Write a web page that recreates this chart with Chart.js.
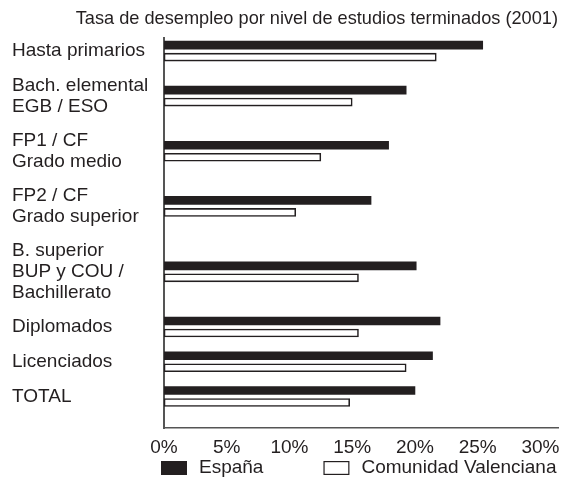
<!DOCTYPE html>
<html lang="es">
<head>
  <meta charset="UTF-8" />
  <title>Tasa de desempleo por nivel de estudios terminados (2001)</title>
  <script src="https://cdn.jsdelivr.net/npm/chart.js"></script>
  <style>
    html, body { margin: 0; padding: 0; background: #fff; }
    .wrap { width: 561px; height: 489px; position: relative; }
  </style>
</head>
<body>
  <div class="wrap"><canvas id="chart"></canvas></div>

  <script>
    // datos (%)
    const niveles = [
      "Hasta primarios",
      ["Bach. elemental", "EGB / ESO"],
      ["FP1 / CF", "Grado medio"],
      ["FP2 / CF", "Grado superior"],
      ["B. superior", "BUP y COU /", "Bachillerato"],
      "Diplomados",
      "Licenciados",
      "TOTAL"
    ];
    const espana = [25.4, 19.3, 17.9, 16.5, 20.1, 22.0, 21.4, 20.0];
    const comunidadValenciana = [21.7, 15.0, 12.5, 10.5, 15.5, 15.5, 19.3, 14.8];
    const ticksPct = [0, 5, 10, 15, 20, 25, 30];

    const TINTA = "#231f20";
    const FUENTE = '"Liberation Sans", Arial, Helvetica, sans-serif';

    // categorías con más líneas de texto ocupan más alto
    const HUECO = 0.7, MARGEN_SUP = -0.2, MARGEN_INF = 0.7;
    class EscalaPonderada extends Chart.CategoryScale {
      getPixelForValue(value) {
        if (typeof value !== "number") value = this.parse(value);
        if (value === null || value === undefined) return NaN;
        const pesos = this.getLabels().map(l => (Array.isArray(l) ? l.length : 1) + HUECO);
        const total = MARGEN_SUP + pesos.reduce((a, b) => a + b, 0) + MARGEN_INF;
        let pos = MARGEN_SUP;
        for (let i = 0; i < value; i++) pos += pesos[i];
        pos += pesos[value] / 2;
        return this.getPixelForDecimal(pos / total);
      }
    }
    EscalaPonderada.id = "ponderada";
    EscalaPonderada.defaults = Chart.CategoryScale.defaults;
    Chart.register(EscalaPonderada);

    const leyenda = {
      id: "leyenda",
      afterDraw(chart) {
        const { ctx, chartArea } = chart;
        const y = 468;
        let x = chartArea.left - 3;
        ctx.save();
        ctx.font = "19px " + FUENTE;
        ctx.textBaseline = "middle";
        chart.data.datasets.forEach(ds => {
          ctx.fillStyle = ds.backgroundColor;
          ctx.fillRect(x, y - 7, 26, 14);
          ctx.lineWidth = 1.2;
          ctx.strokeStyle = TINTA;
          ctx.strokeRect(x + 0.6, y - 6.4, 24.8, 12.8);
          ctx.fillStyle = TINTA;
          ctx.fillText(ds.label, x + 38, y);
          x += 38 + ctx.measureText(ds.label).width + 60;
        });
        ctx.restore();
      }
    };

    new Chart(document.getElementById("chart"), {
      type: "bar",
      data: {
        labels: niveles,
        datasets: [
          {
            label: "España",
            data: espana,
            backgroundColor: TINTA,
            borderWidth: 0
          },
          {
            label: "Comunidad Valenciana",
            data: comunidadValenciana,
            backgroundColor: "#ffffff",
            borderColor: TINTA,
            borderWidth: 1.6,
            borderSkipped: false
          }
        ]
      },
      options: {
        indexAxis: "y",
        responsive: true,
        maintainAspectRatio: false,
        animation: false,
        events: [],
        datasets: { bar: { barThickness: 12, maxBarThickness: 8 } },
        layout: { padding: { left: 12, right: 3, top: 0, bottom: 22 } },
        plugins: {
          legend: { display: false },
          tooltip: { enabled: false },
          title: {
            display: true,
            text: "Tasa de desempleo por nivel de estudios terminados (2001)",
            align: "end",
            color: TINTA,
            font: { family: FUENTE, size: 18.2, weight: "normal", lineHeight: 1.2 },
            padding: { top: 8, bottom: 8 }
          }
        },
        scales: {
          x: {
            min: 0,
            max: 31.4,
            grid: { display: false, drawTicks: false },
            border: { display: true, color: "#555", width: 1.5 },
            afterBuildTicks: s => { s.ticks = ticksPct.map(v => ({ value: v })); },
            afterFit: s => { s.paddingLeft = 0; s.paddingRight = 0; },
            ticks: {
              padding: 8,
              color: TINTA,
              maxRotation: 0,
              autoSkip: false,
              font: { family: FUENTE, size: 19, lineHeight: 1.2 },
              callback: v => v + "%"
            }
          },
          y: {
            type: "ponderada",
            grid: { display: false, drawTicks: false },
            border: { display: true, color: "#555", width: 2 },
            afterFit: s => { s.width = 152; },
            ticks: {
              autoSkip: false,
              crossAlign: "far",
              padding: 10,
              color: TINTA,
              font: { family: FUENTE, size: 19, lineHeight: 1.12 }
            }
          }
        }
      },
      plugins: [leyenda]
    });
  </script>
</body>
</html>
